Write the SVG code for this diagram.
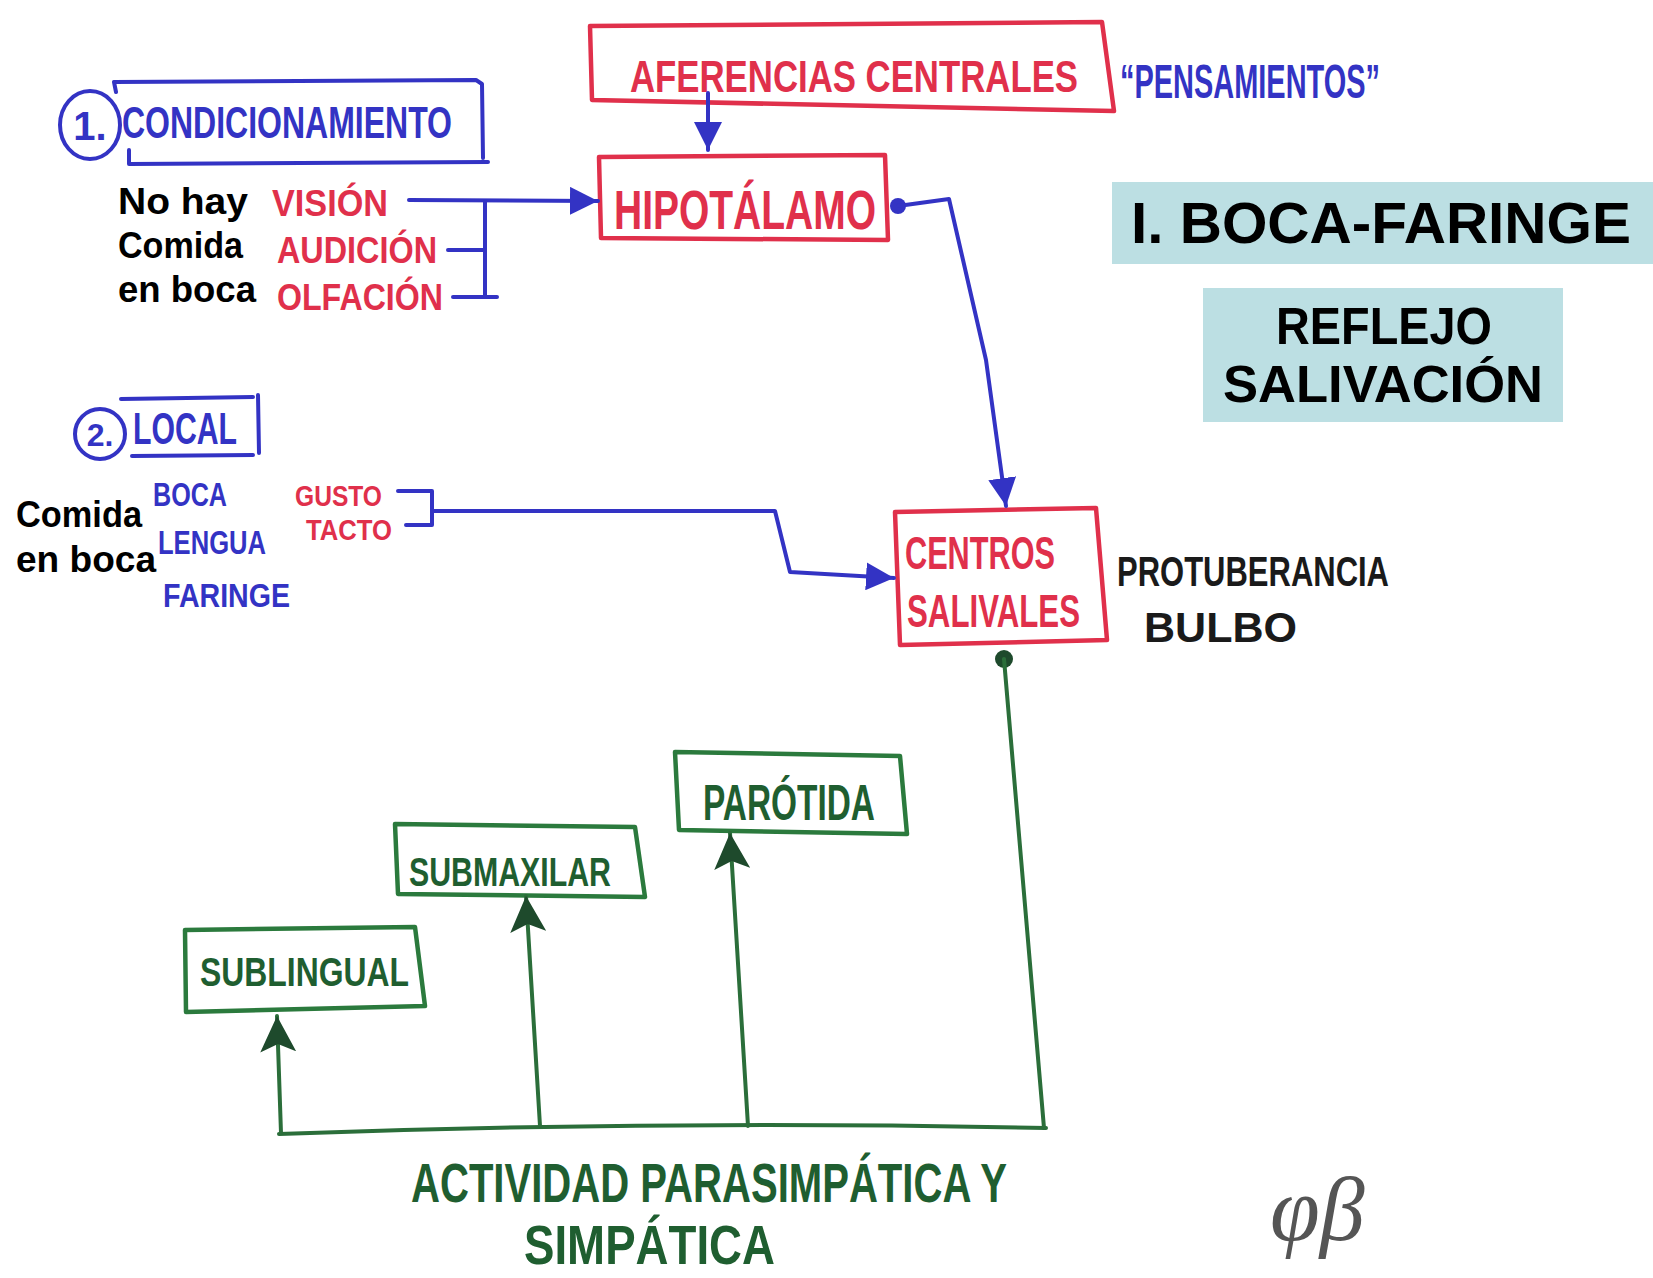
<svg xmlns="http://www.w3.org/2000/svg" width="1653" height="1278" viewBox="0 0 1653 1278">
<style>
.bg{fill:#ffffff}
.rbox{fill:none;stroke:#E0304B;stroke-width:4.5;stroke-linejoin:round}
.gbox{fill:none;stroke:#2B7A3D;stroke-width:4.5;stroke-linejoin:round}
.bl{fill:none;stroke:#3333C4;stroke-width:4;stroke-linejoin:round;stroke-linecap:round}
.gl{fill:none;stroke:#2B6E3A;stroke-width:4;stroke-linejoin:round;stroke-linecap:round}
.hw{font-family:"Liberation Sans",Arial,sans-serif;font-weight:bold}
.r{fill:#E0304B}
.b{fill:#3333C4}
.g{fill:#1F5E30}
.k{fill:#1a1a1a}
.lab{font-family:"Liberation Sans",Arial,sans-serif;font-weight:bold;fill:#000}
.title{fill:#BCDFE3}
</style>
<defs>
<marker id="ab" markerUnits="userSpaceOnUse" markerWidth="30" markerHeight="28" refX="28" refY="14" orient="auto">
<path d="M0,0 L28,14 L0,28 Z" fill="#3333C4"/>
</marker>
<marker id="ag" markerUnits="userSpaceOnUse" markerWidth="38" markerHeight="36" refX="36" refY="18" orient="auto">
<path d="M0,0 L36,18 L0,36 L8,18 Z" fill="#1E4A2C"/>
</marker>
</defs>
<rect class="bg" x="0" y="0" width="1653" height="1278"/>

<g id="title-boca-faringe">
<rect class="title" x="1112" y="182" width="541" height="82"/>
<text class="lab" x="1131" y="243" font-size="58" textLength="500" lengthAdjust="spacingAndGlyphs">I. BOCA-FARINGE</text>
</g>
<g id="title-reflejo">
<rect class="title" x="1203" y="288" width="360" height="134"/>
<text class="lab" x="1384" y="344" font-size="51" text-anchor="middle" textLength="216" lengthAdjust="spacingAndGlyphs">REFLEJO</text>
<text class="lab" x="1383" y="402" font-size="51" text-anchor="middle" textLength="320" lengthAdjust="spacingAndGlyphs">SALIVACIÓN</text>
</g>

<g id="condicionamiento">
<ellipse cx="90" cy="125" rx="30" ry="34" fill="none" stroke="#3333C4" stroke-width="4"/>
<text class="hw b" x="90" y="140" font-size="40" text-anchor="middle">1.</text>
<path class="bl" d="M116,92 L114,82 L476,80 L482,84 L483,158"/>
<path class="bl" d="M129,150 L129,164 L488,162"/>
<text class="hw b" x="122" y="138" font-size="44" textLength="330" lengthAdjust="spacingAndGlyphs">CONDICIONAMIENTO</text>
</g>

<g id="no-hay-comida">
<text class="lab" x="118" y="214" font-size="36" textLength="130" lengthAdjust="spacingAndGlyphs">No hay</text>
<text class="lab" x="118" y="258" font-size="36" textLength="125" lengthAdjust="spacingAndGlyphs">Comida</text>
<text class="lab" x="118" y="302" font-size="36" textLength="138" lengthAdjust="spacingAndGlyphs">en boca</text>
</g>

<g id="sentidos">
<text class="hw r" x="272" y="216" font-size="36" textLength="116" lengthAdjust="spacingAndGlyphs">VISIÓN</text>
<text class="hw r" x="277" y="263" font-size="36" textLength="160" lengthAdjust="spacingAndGlyphs">AUDICIÓN</text>
<text class="hw r" x="277" y="310" font-size="36" textLength="166" lengthAdjust="spacingAndGlyphs">OLFACIÓN</text>
</g>

<g id="aferencias">
<path class="rbox" d="M590,26 L1102,22 L1114,111 L592,100 Z"/>
<text class="hw r" x="630" y="92" font-size="44" textLength="448" lengthAdjust="spacingAndGlyphs">AFERENCIAS CENTRALES</text>
</g>
<g id="pensamientos">
<text class="hw b" x="1120" y="98" font-size="48" textLength="260" lengthAdjust="spacingAndGlyphs">“PENSAMIENTOS”</text>
</g>

<g id="hipotalamo">
<path class="rbox" d="M599,157 L885,155 L888,240 L601,238 Z"/>
<text class="hw r" x="614" y="229" font-size="56" textLength="262" lengthAdjust="spacingAndGlyphs">HIPOTÁLAMO</text>
</g>

<g id="local">
<circle cx="100" cy="434" r="25" fill="none" stroke="#3333C4" stroke-width="4"/>
<text class="hw b" x="100" y="446" font-size="32" text-anchor="middle">2.</text>
<path class="bl" d="M121,399 L253,397 M258,395 L259,453 M132,456 L253,455"/>
<text class="hw b" x="133" y="444" font-size="44" textLength="104" lengthAdjust="spacingAndGlyphs">LOCAL</text>
</g>

<g id="comida-en-boca">
<text class="lab" x="16" y="527" font-size="36" textLength="126" lengthAdjust="spacingAndGlyphs">Comida</text>
<text class="lab" x="16" y="572" font-size="36" textLength="140" lengthAdjust="spacingAndGlyphs">en boca</text>
</g>

<g id="zonas">
<text class="hw b" x="153" y="506" font-size="34" textLength="74" lengthAdjust="spacingAndGlyphs">BOCA</text>
<text class="hw b" x="158" y="554" font-size="34" textLength="108" lengthAdjust="spacingAndGlyphs">LENGUA</text>
<text class="hw b" x="163" y="607" font-size="34" textLength="127" lengthAdjust="spacingAndGlyphs">FARINGE</text>
</g>
<g id="gusto-tacto">
<text class="hw r" x="295" y="506" font-size="29" textLength="87" lengthAdjust="spacingAndGlyphs">GUSTO</text>
<text class="hw r" x="306" y="540" font-size="29" textLength="86" lengthAdjust="spacingAndGlyphs">TACTO</text>
</g>

<g id="centros-salivales">
<path class="rbox" d="M895,512 L1096,508 L1107,640 L900,645 Z"/>
<text class="hw r" x="905" y="569" font-size="46" textLength="150" lengthAdjust="spacingAndGlyphs">CENTROS</text>
<text class="hw r" x="907" y="627" font-size="46" textLength="173" lengthAdjust="spacingAndGlyphs">SALIVALES</text>
</g>
<g id="protuberancia-bulbo">
<text class="hw k" x="1117" y="586" font-size="42" textLength="272" lengthAdjust="spacingAndGlyphs">PROTUBERANCIA</text>
<text class="hw k" x="1144" y="642" font-size="42" textLength="153" lengthAdjust="spacingAndGlyphs">BULBO</text>
</g>

<g id="sublingual">
<path class="gbox" d="M185,930 L415,927 L425,1006 L186,1012 Z"/>
<text class="hw g" x="200" y="986" font-size="40" textLength="209" lengthAdjust="spacingAndGlyphs">SUBLINGUAL</text>
</g>
<g id="submaxilar">
<path class="gbox" d="M395,824 L635,827 L645,897 L398,894 Z"/>
<text class="hw g" x="409" y="886" font-size="40" textLength="202" lengthAdjust="spacingAndGlyphs">SUBMAXILAR</text>
</g>
<g id="parotida">
<path class="gbox" d="M675,752 L900,756 L907,834 L679,830 Z"/>
<text class="hw g" x="703" y="820" font-size="50" textLength="172" lengthAdjust="spacingAndGlyphs">PARÓTIDA</text>
</g>

<g id="actividad">
<text class="hw g" x="411" y="1202" font-size="56" textLength="596" lengthAdjust="spacingAndGlyphs">ACTIVIDAD PARASIMPÁTICA Y</text>
<text class="hw g" x="524" y="1264" font-size="56" textLength="251" lengthAdjust="spacingAndGlyphs">SIMPÁTICA</text>
</g>

<g id="firma">
<text x="1270" y="1240" font-family="'Liberation Serif',serif" font-style="italic" font-size="90" fill="#555">φβ</text>
</g>

<g id="connectors">
<path class="bl" d="M409,200 L598,201" marker-end="url(#ab)"/>
<path class="bl" d="M485,201 L485,297 M448,250 L485,250 M453,297 L497,297"/>
<path class="bl" d="M708,93 L708,150" marker-end="url(#ab)"/>
<circle cx="898" cy="206" r="8" fill="#3333C4"/>
<path class="bl" d="M898,206 L949,199 L986,360 L1006,506" marker-end="url(#ab)"/>
<path class="bl" d="M398,491 L432,491 L432,525 L406,525 M432,511 L775,511 L790,572 L894,578" marker-end="url(#ab)"/>
<circle cx="1004" cy="659" r="9" fill="#1E4A2C"/>
<path class="gl" d="M1004,659 L1044,1128"/>
<path class="gl" d="M279,1134 Q660,1120 1046,1128"/>
<path class="gl" d="M281,1133 L277,1016" marker-end="url(#ag)"/>
<path class="gl" d="M540,1126 L526,896" marker-end="url(#ag)"/>
<path class="gl" d="M748,1126 L730,833" marker-end="url(#ag)"/>
</g>
</svg>
